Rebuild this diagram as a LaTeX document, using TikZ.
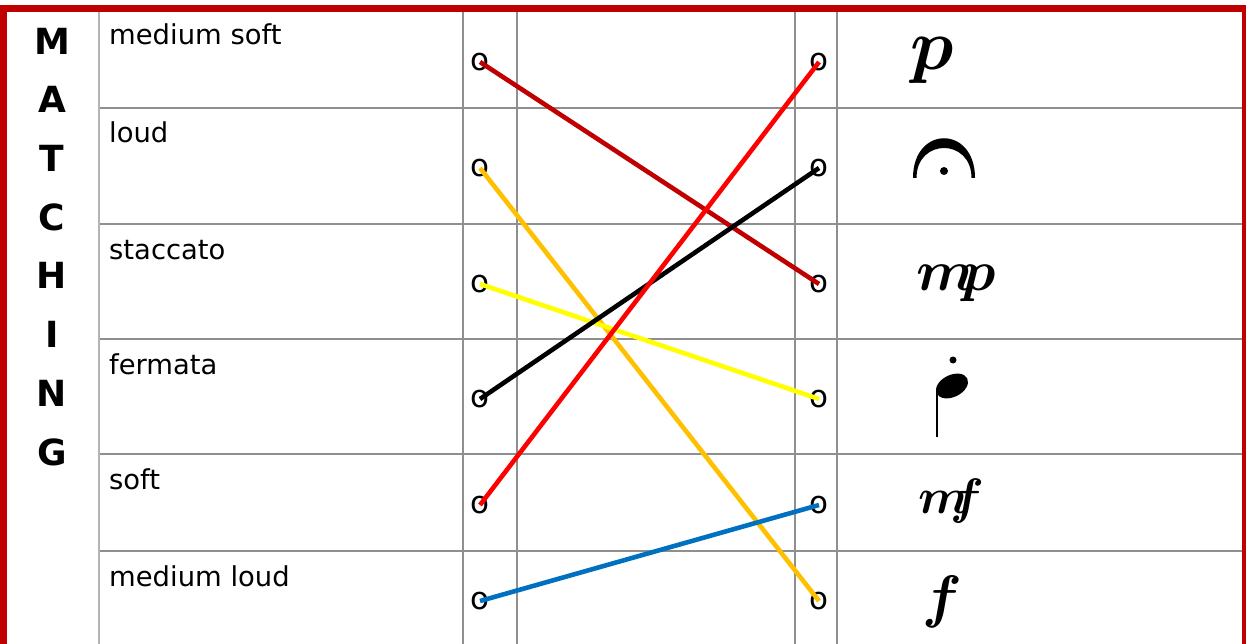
\documentclass[tikz,border=0pt]{standalone}
\usepackage{fontspec}
\usepackage{bm}
\setmainfont{DejaVu Sans}
\usetikzlibrary{calc}
\definecolor{framered}{HTML}{C00000}
\definecolor{gridgray}{HTML}{8F8F8F}
\definecolor{lightgray}{HTML}{B4B4B4}
\definecolor{mdarkred}{HTML}{C00000}
\definecolor{mred}{HTML}{FF0000}
\definecolor{morange}{HTML}{FFC000}
\definecolor{myellow}{HTML}{FFFF00}
\definecolor{mblue}{HTML}{0070C0}

\begin{document}
\begin{tikzpicture}[
    x=1pt, y=-1pt,
    gridline/.style={draw=gridgray, line width=2pt},
    letter/.style={inner sep=0pt, font=\fontsize{36}{40}\selectfont\bfseries},
    termtext/.style={anchor=base west, inner sep=0pt, font=\fontsize{27.4}{32}\selectfont},
    ring/.style={inner sep=0pt, font=\fontsize{31}{34}\selectfont},
    dyn/.style={anchor=base west, inner sep=0pt, font=\Huge},
    match/.style={line width=4.6pt},
  ]
  \useasboundingbox (0,0) rectangle (1246,644);

  % table grid
  \foreach \y in {108,224,339,454,551}
    \draw[gridline] (99,\y) -- (1242,\y);
  \foreach \x in {463,517,795,837}
    \draw[gridline] (\x,11) -- (\x,644);
  \draw[draw=lightgray, line width=2pt] (99,11) -- (99,644);

  % frame
  \draw[framered, line width=6.6pt] (3.5,644) -- (3.5,8.3) -- (1245.3,8.3) -- (1245.3,644);

  % side title
  \foreach \c [count=\i] in {M,A,T,C,H,I,N,G}
    \node[letter] (title\i) at (52,{41+58.7*(\i-1)}) {\c};

  % terms
  \foreach \t/\y [count=\i] in {medium soft/45, loud/143, staccato/259, fermata/374, soft/489, medium loud/586}
    \node[termtext] (term\i) at (109,\y) {\t};

  % answer rings
  \foreach \y [count=\i] in {62,168,284,399,505,601} {
    \node[ring] (l\i) at (480,\y) {o};
    \node[ring] (r\i) at (819,\y) {o};
  }

  % symbols
  \node[dyn, scale=2.9] (sym1) at (910,70) {$\bm{p}$};
  \node[dyn, scale=2.3] (sym3) at (916,290) {$\bm{m\mkern-4.5mu p}$};
  \node[dyn, scale=2.0] (sym5) at (918,513) {$\bm{m\mkern-7mu f}$};
  \node[dyn, scale=2.35] (sym6) at (922,616) {$\bm{f}$};

  % fermata
  \fill (913,178) .. controls (913,125) and (975,125) .. (975,178)
    -- (971.5,178) .. controls (971.5,138) and (916.5,138) .. (916.5,178) -- cycle;
  \fill (944,171) circle[radius=4];

  % staccato note
  \fill[rotate around={26:(952,386)}] (952,386) ellipse[x radius=17, y radius=11];
  \draw[line width=2pt] (937,390) -- (937,437);
  \fill (953,360) circle[radius=3.5];

  % answers
  \draw[match, mdarkred] (l1.center) -- (r3.center);
  \draw[match, morange] (l2.center) -- (r6.center);
  \draw[match, myellow] (l3.center) -- (r4.center);
  \draw[match, black] (l4.center) -- (r2.center);
  \draw[match, mred] (l5.center) -- (r1.center);
  \draw[match, mblue] (l6.center) -- (r5.center);
\end{tikzpicture}
\end{document}
